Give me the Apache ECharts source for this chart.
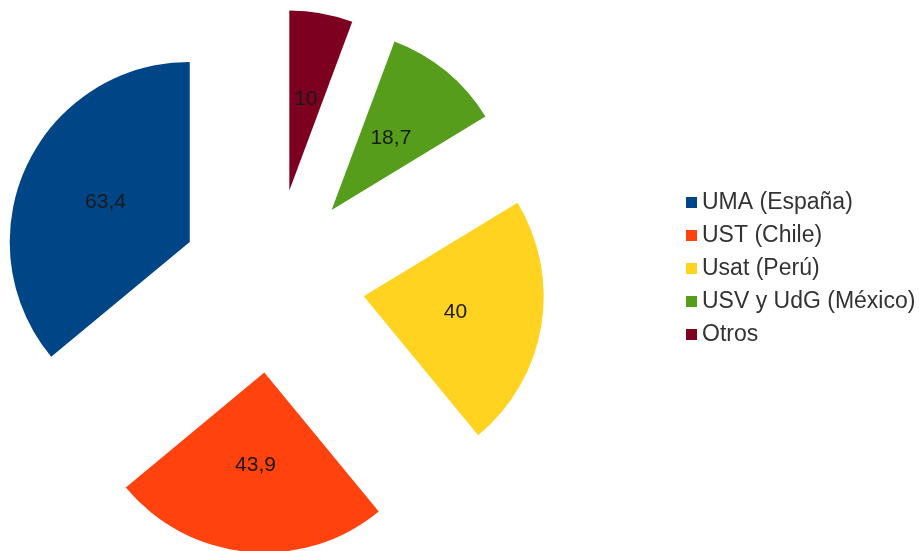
<!DOCTYPE html>
<html>
<head>
<meta charset="utf-8">
<script src="https://cdn.jsdelivr.net/npm/echarts@6/dist/echarts.min.js"></script>
<style>
  html, body { margin: 0; padding: 0; background: #fff; }
  #pie { width: 919px; height: 551px; }
</style>
</head>
<body>
<div id="pie"></div>
<script>
// datos
var categorias = ['UMA (España)', 'UST (Chile)', 'Usat (Perú)', 'USV y UdG (México)', 'Otros'];
var valores = [63.4, 43.9, 40, 18.7, 10];
var colores = ['#004586', '#ff420e', '#ffd320', '#579d1c', '#7e0021'];

var datos = [];
categorias.forEach(function (nombre, i) {
  datos.push({ name: nombre, value: valores[i], selected: true });
});

var myChart = echarts.init(document.getElementById('pie'));
myChart.setOption({
  animation: false,
  color: colores,
  legend: {
    orient: 'vertical',
    left: 681,
    top: 186,
    icon: 'rect',
    itemWidth: 11,
    itemHeight: 11,
    itemGap: 10,
    textStyle: {
      fontFamily: 'Liberation Sans',
      fontSize: 23,
      color: '#333'
    },
    data: categorias
  },
  series: [
    {
      type: 'pie',
      center: [273, 281],
      radius: 180,
      startAngle: 90,
      clockwise: false,
      selectedMode: 'multiple',
      selectedOffset: 92,
      data: datos,
      label: {
        show: true,
        position: 'inner',
        fontFamily: 'Liberation Sans',
        fontSize: 21,
        color: '#1a1a1a',
        formatter: function (p) {
          return String(p.value).replace('.', ',');
        }
      },
      labelLine: { show: false },
      emphasis: { scale: false, disabled: true },
      select: { itemStyle: { borderWidth: 0 } }
    }
  ]
});
</script>
</body>
</html>
